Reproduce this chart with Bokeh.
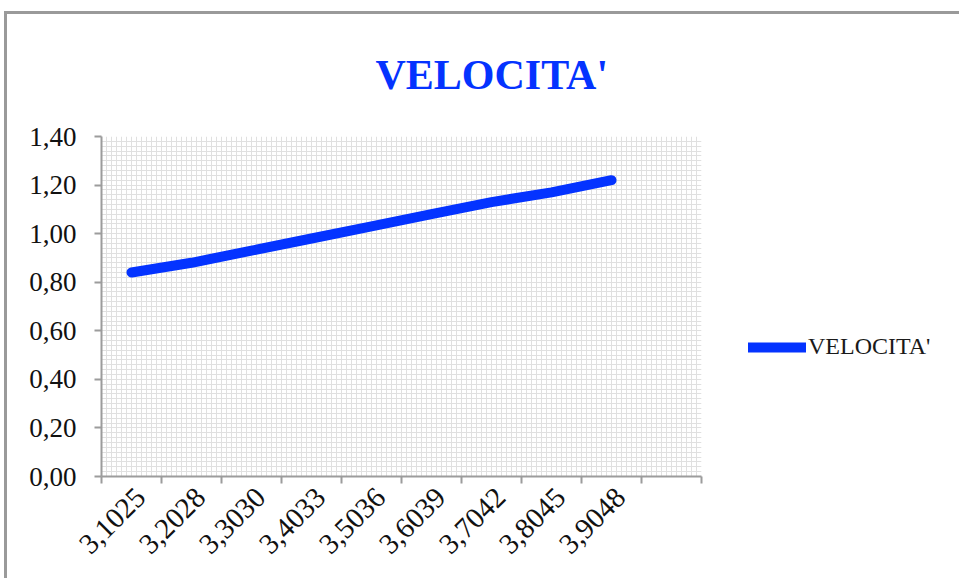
import numpy as np
from math import pi
from bokeh.plotting import figure
from bokeh.models import Range1d, FixedTicker, Legend, LegendItem
from bokeh.embed import file_html
from bokeh.resources import INLINE

# ---- data ----
categories = ["3,1025", "3,2028", "3,3030", "3,4033", "3,5036",
              "3,6039", "3,7042", "3,8045", "3,9048"]
velocita = [0.84, 0.88, 0.93, 0.98, 1.03, 1.08, 1.13, 1.17, 1.22]
y_ticks = [0.0, 0.2, 0.4, 0.6, 0.8, 1.0, 1.2, 1.4]
y_tick_labels = ["0,00", "0,20", "0,40", "0,60", "0,80", "1,00", "1,20", "1,40"]
n_slots = 10  # category slots on the axis (last one empty)
series_name = "VELOCITA'"
title_text = "VELOCITA'"

x_pos = [i + 0.5 for i in range(len(categories))]
label_pos = [x + 0.15 for x in x_pos]  # rotated labels end slightly right of centre

FONT = "Liberation Serif"
BLUE = "#0433FF"
AXIS = "#9c9c9c"

p = figure(frame_width=600, frame_height=340,
           x_range=Range1d(0, n_slots), y_range=Range1d(0, 1.4),
           output_backend="svg", toolbar_location=None,
           min_border_left=94, min_border_right=10,
           min_border_top=122, min_border_bottom=102)
p.styles = {"margin-top": "11px", "margin-left": "4px",
            "border-top": "3px solid #9a9a9a",
            "border-left": "3px solid #9a9a9a"}
p.outline_line_color = None
p.background_fill_color = "white"

# title
p.title.text = title_text
p.title.align = "left"
p.title.offset = 274
p.title.standoff = 74
p.title.vertical_align = "top"
p.title.text_font = FONT
p.title.text_font_size = "42px"
p.title.text_font_style = "bold"
p.title.text_color = BLUE

# grid (fine Excel-like minor grid)
p.xgrid.ticker = FixedTicker(ticks=list(np.linspace(0, n_slots, n_slots * 12 + 1)))
p.ygrid.ticker = FixedTicker(ticks=list(np.linspace(0, 1.4, 71)))
p.xgrid.grid_line_color = "#e0e0e0"
p.ygrid.grid_line_color = "#e0e0e0"
p.xgrid.grid_line_width = 1
p.ygrid.grid_line_width = 1

# x axis
p.xaxis.ticker = FixedTicker(ticks=label_pos, minor_ticks=list(range(n_slots + 1)))
p.xaxis.major_label_overrides = {x: c for x, c in zip(label_pos, categories)}
p.xaxis.major_label_orientation = pi / 4
p.xaxis.major_tick_out = 0
p.xaxis.major_tick_in = 0
p.xaxis.minor_tick_out = 7
p.xaxis.minor_tick_in = 0
p.xaxis.major_label_standoff = 9
p.xaxis.major_label_text_font_size = "29px"

# y axis
p.yaxis.ticker = FixedTicker(ticks=y_ticks)
p.yaxis.major_label_overrides = {t: l for t, l in zip(y_ticks, y_tick_labels)}
p.yaxis.major_tick_out = 7
p.yaxis.major_tick_in = 0
p.yaxis.minor_tick_out = 0
p.yaxis.major_label_standoff = 18
p.yaxis.major_label_text_font_size = "27px"

for ax in (p.xaxis, p.yaxis):
    ax.axis_line_color = AXIS
    ax.axis_line_width = 2
    ax.major_tick_line_color = AXIS
    ax.major_tick_line_width = 2
    ax.minor_tick_line_color = AXIS
    ax.minor_tick_line_width = 2
    ax.major_label_text_font = FONT
    ax.major_label_text_color = "#111111"

r = p.line(x=x_pos, y=velocita, line_width=10, line_color=BLUE,
           line_cap="round", line_join="round")

legend = Legend(items=[LegendItem(label=series_name, renderers=[r])],
                location=(47, 116), glyph_width=58, glyph_height=20,
                label_height=20, label_standoff=2, padding=0, margin=0,
                spacing=0, border_line_alpha=0, background_fill_alpha=0,
                label_text_font=FONT, label_text_font_size="24px",
                label_text_color="#1a1a1a")
p.add_layout(legend, "right")

open("out.html", "w").write(file_html(p, INLINE))
